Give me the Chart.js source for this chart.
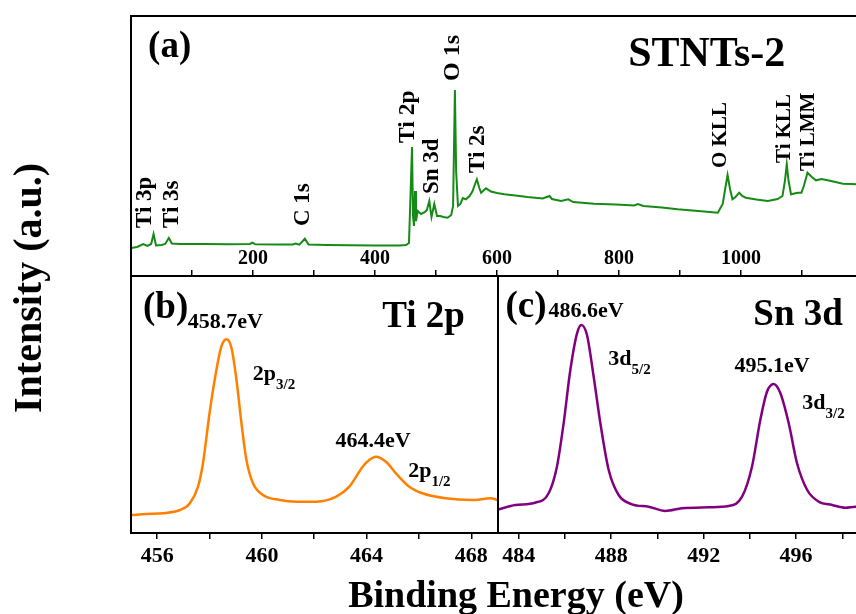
<!DOCTYPE html>
<html>
<head>
<meta charset="utf-8">
<script src="https://cdn.jsdelivr.net/npm/chart.js@4.4.0/dist/chart.umd.min.js"></script>
<style>
  html, body { margin: 0; padding: 0; background: #fff; overflow: hidden; }
  #wrap { position: relative; width: 856px; height: 614px; overflow: hidden; }
  canvas { position: absolute; left: 0; top: 0; }
  .axisTitle {
    position: absolute;
    font-family: "Liberation Serif", "Times New Roman", serif;
    font-weight: bold;
    color: #000;
    white-space: nowrap;
  }
  #yTitle { left: 28px; top: 288px; font-size: 40px; line-height: 40px; transform: translate(-50%, -50%) rotate(-90deg); }
  #xTitle { left: 516px; top: 575px; font-size: 38px; line-height: 38px; transform: translateX(-50%); }
</style>
</head>
<body>
<div id="wrap">
  <canvas id="surveyChart" width="900" height="614"></canvas>
  <canvas id="tiChart" width="900" height="614"></canvas>
  <canvas id="snChart" width="900" height="614"></canvas>
  <div class="axisTitle" id="yTitle">Intensity (a.u.)</div>
  <div class="axisTitle" id="xTitle">Binding Energy (eV)</div>
</div>
<script>
// (a) survey spectrum, STNTs-2
const surveyEnergy = [0, 10, 20, 27, 33, 37, 41, 50, 56, 62, 67, 80, 120, 160, 195, 199, 204, 240, 265, 270, 276, 285, 291, 320, 360, 400, 440, 450.8, 455.7, 457.4, 460.7, 462.3, 463.9, 465.6, 467.2, 470, 475.4, 482, 485, 489, 492.6, 497.2, 501.6, 507, 512, 519, 525, 528, 531, 533, 536, 540, 544, 549, 555, 560, 564, 567, 571, 574, 578, 582, 590, 600, 612, 630, 650, 675, 686, 690, 705, 717, 725, 759, 795, 825, 831, 840, 870, 896, 930, 962, 970, 974, 978, 982, 986, 991, 997, 1002, 1008, 1025, 1044, 1060, 1068, 1072, 1075, 1078, 1082, 1093, 1099, 1103, 1109, 1116, 1123, 1132, 1142, 1155, 1167, 1180, 1190, 1200];
const surveyIntensity = [28, 29, 32, 30, 32, 42, 30.5, 31, 32, 38, 32.5, 32, 32, 31.7, 32, 33.3, 31.7, 31.5, 31.5, 32.5, 31.3, 37.3, 31.5, 31, 30.7, 30.5, 30.5, 31, 33, 65, 129, 60, 50, 85, 55, 65, 62, 64, 66, 75, 59, 72, 60, 60, 59, 58.3, 61, 70, 186, 105, 70, 72, 78, 76.7, 80, 85, 92, 96.7, 88, 83.3, 85.5, 87.7, 84.5, 83, 81.7, 80.5, 79, 77.5, 80, 77, 75, 76.7, 74, 72.3, 71.5, 70.5, 72, 70, 68.5, 66.7, 65, 63.3, 72, 87, 101, 87, 76.7, 79, 83.3, 80, 78.3, 76.5, 75, 77, 80, 95, 111.7, 95, 81.7, 83.3, 83.3, 90, 103.3, 99, 95.7, 97, 95.7, 94, 92.3, 92, 91.7, 91];

// (b) Ti 2p
const tiEnergy = [455.0, 455.6, 456.23, 456.87, 457.25, 457.56, 457.75, 458.0, 458.24, 458.45, 458.65, 458.84, 459.03, 459.22, 459.41, 459.66, 460.04, 460.68, 461.31, 462.07, 462.84, 463.34, 463.85, 464.1, 464.36, 464.74, 465.12, 465.63, 466.13, 467.02, 468.04, 468.74, 469.0];
const tiIntensity = [18, 19, 19.7, 23, 29.7, 46.3, 69.7, 119.7, 159.7, 186.3, 193.7, 184.7, 153, 109.7, 73, 49.7, 38, 33, 31.3, 31.3, 36.3, 46.3, 66.3, 73, 76.3, 71.3, 59.7, 46.3, 39.7, 34.7, 33, 34.7, 33];

// (c) Sn 3d
const snEnergy = [483.13, 483.85, 484.71, 485.29, 485.65, 485.94, 486.23, 486.52, 486.71, 486.95, 487.24, 487.53, 487.89, 488.32, 488.9, 489.62, 490.34, 491.06, 492.22, 493.08, 493.66, 494.09, 494.45, 494.74, 495.03, 495.32, 495.68, 496.04, 496.48, 496.98, 497.56, 498.13, 498.57, 499.5];
const snIntensity = [23.7, 28, 30.3, 39.7, 66.3, 109.7, 163, 199.7, 208, 198, 156.3, 109.7, 63, 38, 28.7, 26.3, 22, 24.7, 25.7, 27, 36.3, 66.3, 113, 141.3, 149, 139.7, 109.7, 69.7, 43, 31.3, 28, 25.3, 26.3, 26];

const serif = '"Liberation Serif", "Times New Roman", serif';
Chart.defaults.font.family = serif;
Chart.defaults.color = '#000';

function toPoints(xs, ys) {
  return xs.map((x, i) => ({ x: x, y: ys[i] }));
}

// frame round the plot area plus the text labels
function makeDecor(labels) {
  return {
    id: 'decor',
    afterDatasetsDraw(chart) {
      const { ctx, chartArea: a, scales } = chart;
      ctx.save();
      ctx.strokeStyle = '#000';
      ctx.lineWidth = 2;
      ctx.strokeRect(a.left, a.top, a.right - a.left, a.bottom - a.top);
      ctx.fillStyle = '#000';
      labels.forEach(l => {
        const px = scales.x.getPixelForValue(l.x);
        const py = scales.y.getPixelForValue(l.y);
        ctx.font = 'bold ' + l.size + 'px ' + serif;
        if (l.rot) {
          ctx.save();
          ctx.translate(px, py);
          ctx.rotate(-Math.PI / 2);
          ctx.textAlign = 'left';
          ctx.textBaseline = 'middle';
          ctx.fillText(l.text, 0, 0);
          ctx.restore();
        } else {
          ctx.textAlign = 'left';
          ctx.textBaseline = 'alphabetic';
          ctx.fillText(l.text, px, py);
          if (l.sub) {
            const w = ctx.measureText(l.text).width;
            ctx.font = 'bold 15px ' + serif;
            ctx.fillText(l.sub, px + w, py + 9);
          }
        }
      });
      ctx.restore();
    }
  };
}

function makeChart(id, opts) {
  return new Chart(document.getElementById(id), {
    type: 'line',
    data: {
      datasets: [{
        data: opts.points,
        borderColor: opts.color,
        borderWidth: opts.width,
        pointRadius: 0,
        tension: opts.smooth ? 0.4 : 0,
        cubicInterpolationMode: opts.smooth ? 'monotone' : 'default',
        fill: false
      }]
    },
    options: {
      responsive: false,
      animation: false,
      layout: { padding: opts.padding },
      plugins: { legend: { display: false }, tooltip: { enabled: false } },
      scales: {
        x: {
          type: 'linear',
          min: opts.xMin,
          max: opts.xMax,
          afterFit: s => { s.height = 1; },
          border: { display: false },
          grid: {
            drawOnChartArea: false,
            drawTicks: true,
            tickLength: opts.tickLength,
            color: '#000',
            lineWidth: 1.5
          },
          ticks: {
            stepSize: opts.step,
            includeBounds: false,
            autoSkip: false,
            mirror: true, // no clipping of the labels to the 1px axis box
            maxRotation: 0,
            maxTicksLimit: 30,
            padding: opts.tickPadding,
            color: '#000',
            font: { size: opts.tickSize, weight: 'bold' },
            callback: opts.tickLabel
          }
        },
        y: { display: false, min: 0, max: opts.yMax }
      }
    },
    plugins: [makeDecor(opts.labels)]
  });
}

makeChart('surveyChart', {
  points: toPoints(surveyEnergy, surveyIntensity),
  color: '#168a16',
  width: 2,
  smooth: false,
  padding: { left: 131, right: 37, top: 16, bottom: 337 },
  xMin: 0, xMax: 1200, yMax: 260,
  step: 100,
  tickLength: -6,
  tickPadding: 5,
  tickSize: 20,
  tickLabel: v => (v % 200 === 0 && v > 0 && v < 1200) ? v : '',
  labels: [
    { text: '(a)', x: 28, y: 219, size: 37 },
    { text: 'STNTs-2', x: 815, y: 210, size: 42 },
    { text: 'Ti 3p', x: 23, y: 48, size: 23, rot: true },
    { text: 'Ti 3s', x: 67, y: 48, size: 23, rot: true },
    { text: 'C 1s', x: 282, y: 50, size: 23, rot: true },
    { text: 'Ti 2p', x: 454, y: 133, size: 23.5, rot: true },
    { text: 'Sn 3d', x: 493, y: 82, size: 23, rot: true },
    { text: 'O 1s', x: 528, y: 195, size: 24, rot: true },
    { text: 'Ti 2s', x: 569, y: 103, size: 23, rot: true },
    { text: 'O KLL', x: 967, y: 108, size: 21, rot: true },
    { text: 'Ti KLL', x: 1072, y: 113, size: 21, rot: true },
    { text: 'Ti LMM', x: 1110, y: 105, size: 21, rot: true }
  ]
});

makeChart('tiChart', {
  points: toPoints(tiEnergy, tiIntensity),
  color: '#ff8000',
  width: 2.5,
  smooth: true,
  padding: { left: 131, right: 402, top: 276, bottom: 80 },
  xMin: 455, xMax: 469.02, yMax: 257,
  step: 2,
  tickLength: 6,
  tickPadding: -37,
  tickSize: 22,
  tickLabel: v => (v % 4 === 0) ? v : '',
  labels: [
    { text: '(b)', x: 455.46, y: 215, size: 37 },
    { text: '458.7eV', x: 457.17, y: 205, size: 22 },
    { text: 'Ti 2p', x: 464.6, y: 206, size: 37 },
    { text: '2p', x: 459.65, y: 153, size: 22, sub: '3/2' },
    { text: '464.4eV', x: 462.81, y: 86, size: 22 },
    { text: '2p', x: 465.59, y: 56, size: 22, sub: '1/2' }
  ]
});

makeChart('snChart', {
  points: toPoints(snEnergy, snIntensity),
  color: '#800080',
  width: 2.5,
  smooth: true,
  padding: { left: 498, right: 23, top: 276, bottom: 80 },
  xMin: 483.1, xMax: 499.5, yMax: 257,
  step: 2,
  tickLength: 6,
  tickPadding: -37,
  tickSize: 22,
  tickLabel: v => (v % 4 === 0) ? v : '',
  labels: [
    { text: '(c)', x: 483.42, y: 216, size: 37 },
    { text: '486.6eV', x: 485.28, y: 216, size: 22 },
    { text: 'Sn 3d', x: 494.15, y: 208, size: 37 },
    { text: '3d', x: 487.87, y: 168, size: 22, sub: '5/2' },
    { text: '495.1eV', x: 493.33, y: 161, size: 22 },
    { text: '3d', x: 496.27, y: 124, size: 22, sub: '3/2' }
  ]
});
</script>
</body>
</html>
